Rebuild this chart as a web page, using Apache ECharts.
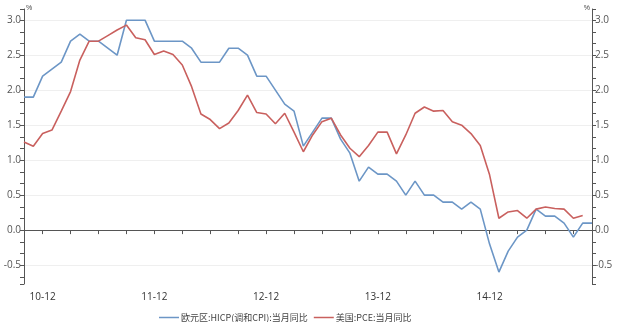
<!DOCTYPE html>
<html>
<head>
<meta charset="utf-8">
<script src="https://cdn.jsdelivr.net/npm/echarts@6/dist/echarts.min.js"></script>
<style>
html,body{margin:0;padding:0;background:#fff;}
#chart{width:620px;height:322px;}
</style>
</head>
<body>
<div id="chart"></div>
<script>
// Months (yy-mm), Oct 2010 .. Nov 2015
const months = [
  "10-10","10-11","10-12",
  "11-01","11-02","11-03","11-04","11-05","11-06","11-07","11-08","11-09","11-10","11-11","11-12",
  "12-01","12-02","12-03","12-04","12-05","12-06","12-07","12-08","12-09","12-10","12-11","12-12",
  "13-01","13-02","13-03","13-04","13-05","13-06","13-07","13-08","13-09","13-10","13-11","13-12",
  "14-01","14-02","14-03","14-04","14-05","14-06","14-07","14-08","14-09","14-10","14-11","14-12",
  "15-01","15-02","15-03","15-04","15-05","15-06","15-07","15-08","15-09","15-10","15-11"
];
const tickLabels = ["10-12","11-12","12-12","13-12","14-12"];
const seriesNames = ["欧元区:HICP(调和CPI):当月同比","美国:PCE:当月同比"];
const euroHICP = [
  1.9,1.9,2.2,
  2.3,2.4,2.7,2.8,2.7,2.7,2.6,2.5,3.0,3.0,3.0,2.7,
  2.7,2.7,2.7,2.6,2.4,2.4,2.4,2.6,2.6,2.5,2.2,2.2,
  2.0,1.8,1.7,1.2,1.4,1.6,1.6,1.3,1.1,0.7,0.9,0.8,
  0.8,0.7,0.5,0.7,0.5,0.5,0.4,0.4,0.3,0.4,0.3,-0.2,
  -0.6,-0.3,-0.1,0.0,0.3,0.2,0.2,0.1,-0.1,0.1,0.1
];
const usPCE = [
  1.26,1.2,1.38,
  1.43,1.7,1.98,2.43,2.7,2.7,2.78,2.86,2.93,2.75,2.72,2.51,
  2.56,2.51,2.36,2.05,1.66,1.58,1.45,1.53,1.71,1.93,1.68,1.66,
  1.52,1.67,1.4,1.12,1.36,1.55,1.6,1.36,1.17,1.05,1.21,1.4,
  1.4,1.09,1.36,1.67,1.76,1.7,1.71,1.55,1.5,1.38,1.21,0.79,
  0.17,0.26,0.28,0.17,0.3,0.33,0.31,0.3,0.17,0.21,null
];
const colors = ["#6c96c6","#c9605e"];

const axisColor = "#555";
function yAxisCfg(pos){
  return {
    type:"value", position:pos, min:-0.77, max:3.16, splitNumber:8,
    name:"%", nameLocation:"end", nameGap:1,
    nameTextStyle:{fontSize:7, color:"#444", align: pos==="left" ? "left" : "right", verticalAlign:"middle",
      padding: pos==="left" ? [0,0,0,2] : [0,2,0,0]},
    axisLine:{show:true, lineStyle:{color:axisColor, width:1}},
    axisTick:{show:true, length:4, lineStyle:{color:axisColor}},
    minorTick:{show:true, splitNumber:3, length:4, lineStyle:{color:axisColor}},
    axisLabel:{color:"#555", fontSize:10, margin:3, showMinLabel:false, showMaxLabel:false,
      fontFamily:"Open Sans", formatter:v=>v.toFixed(1)},
    splitLine:{show: pos==="left", showMinLine:false, showMaxLine:false, lineStyle:{color:"#efefef", width:1}},
    minorSplitLine:{show:false}
  };
}

const chart = echarts.init(document.getElementById("chart"), null, {renderer:"canvas"});
chart.setOption({
  animation:false,
  backgroundColor:"#fff",
  color:colors,
  grid:{left:24, right:28, top:9, bottom:38, containLabel:false},
  legend:{
    data:seriesNames, left:154, top:308, icon:"rect", itemWidth:20, itemHeight:1.5, itemGap:6,
    textStyle:{fontSize:9, color:"#444", fontFamily:"Noto Sans CJK SC", padding:[0,0,0,-3]}
  },
  xAxis:{
    type:"category", data:months, boundaryGap:false,
    axisLine:{lineStyle:{color:axisColor, width:1}},
    axisTick:{show:true, length:4, lineStyle:{color:axisColor}, interval:(i)=> i%3===2},
    axisLabel:{color:"#333", fontSize:10, margin:8, fontFamily:"Open Sans",
      interval:(i,v)=> tickLabels.indexOf(v) >= 0},
    splitLine:{show:false}
  },
  yAxis:[yAxisCfg("left"), yAxisCfg("right")],
  series:[
    {name:seriesNames[0], type:"line", data:euroHICP, yAxisIndex:0, showSymbol:false, symbol:"none",
      lineStyle:{width:1.6, color:colors[0]}, itemStyle:{color:colors[0]}},
    {name:seriesNames[1], type:"line", data:usPCE, yAxisIndex:1, showSymbol:false, symbol:"none",
      lineStyle:{width:1.6, color:colors[1]}, itemStyle:{color:colors[1]}}
  ]
});
</script>
</body>
</html>
